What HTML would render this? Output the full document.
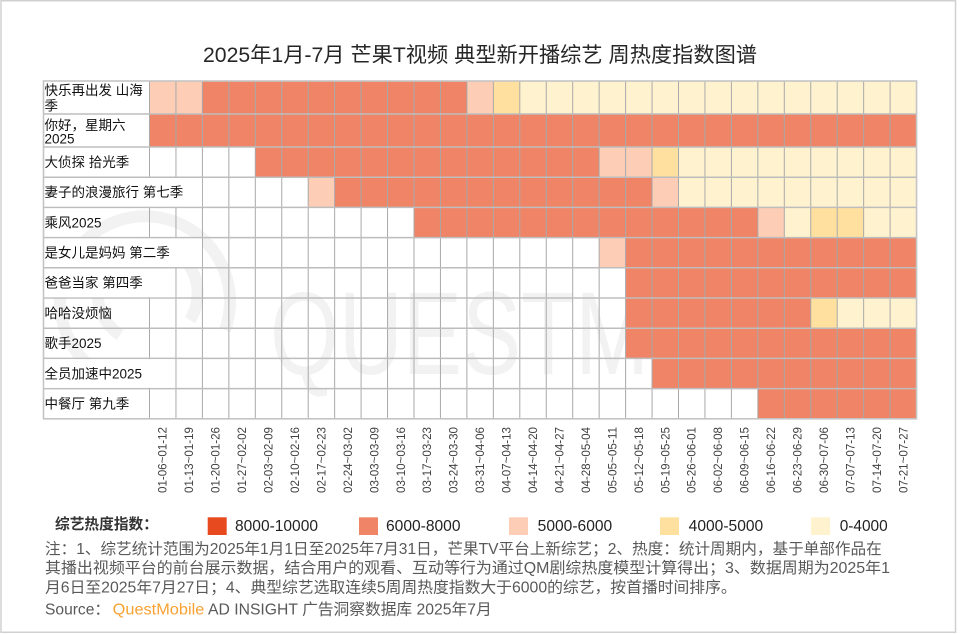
<!DOCTYPE html>
<html>
<head>
<meta charset="utf-8">
<style>
html,body{margin:0;padding:0;background:#fff;}
svg{display:block;}
text{font-family:"Liberation Sans","Noto Sans CJK SC",sans-serif;}
</style>
</head>
<body>
<svg width="960" height="634" viewBox="0 0 960 634" xmlns="http://www.w3.org/2000/svg">
<defs>
<clipPath id="wm"><rect x="43.5" y="81" width="873" height="338"/></clipPath>
</defs>
<rect x="0" y="0" width="960" height="634" fill="#fff"/>
<!-- frame -->
<rect x="1" y="0.75" width="954.5" height="631.5" fill="none" stroke="#d0d0d0" stroke-width="1.5"/>

<!-- title -->
<text x="480" y="62" font-size="21" fill="#262626" text-anchor="middle" textLength="554" lengthAdjust="spacingAndGlyphs">2025年1月-7月 芒果T视频 典型新开播综艺 周热度指数图谱</text>

<!-- watermark -->
<g clip-path="url(#wm)">
<g fill="none" stroke="#f2f2f2" stroke-width="12">
<path d="M95 370 A85 85 0 1 1 225 330"/>
<path d="M120 335 A50 50 0 1 1 190 320"/>
</g>
<text x="270" y="374" font-size="118" fill="#f2f2f2" textLength="640" lengthAdjust="spacingAndGlyphs">QUESTMOBILE</text>
</g>

<!-- cells -->
<g>
<!-- R1 -->
<rect x="149.5" y="81" width="52.9" height="33" fill="#FDCDB5"/>
<rect x="202.4" y="81" width="264.5" height="33" fill="#EF8467"/>
<rect x="466.9" y="81" width="26.45" height="33" fill="#FDCDB5"/>
<rect x="493.35" y="81" width="26.45" height="33" fill="#FFE09F"/>
<rect x="519.8" y="81" width="396.75" height="33" fill="#FFF3CF"/>
<!-- R2 -->
<rect x="149.5" y="114" width="767.05" height="33" fill="#EF8467"/>
<!-- R3 -->
<rect x="255.3" y="147" width="343.85" height="30.2" fill="#EF8467"/>
<rect x="599.15" y="147" width="52.9" height="30.2" fill="#FDCDB5"/>
<rect x="652.05" y="147" width="26.45" height="30.2" fill="#FFE09F"/>
<rect x="678.5" y="147" width="238.05" height="30.2" fill="#FFF3CF"/>
<!-- R4 -->
<rect x="308.2" y="177.2" width="26.45" height="30.2" fill="#FDCDB5"/>
<rect x="334.65" y="177.2" width="317.4" height="30.2" fill="#EF8467"/>
<rect x="652.05" y="177.2" width="26.45" height="30.2" fill="#FDCDB5"/>
<rect x="678.5" y="177.2" width="238.05" height="30.2" fill="#FFF3CF"/>
<!-- R5 -->
<rect x="414" y="207.4" width="343.85" height="30.2" fill="#EF8467"/>
<rect x="757.85" y="207.4" width="26.45" height="30.2" fill="#FDCDB5"/>
<rect x="784.3" y="207.4" width="26.45" height="30.2" fill="#FFF3CF"/>
<rect x="810.75" y="207.4" width="52.9" height="30.2" fill="#FFE09F"/>
<rect x="863.65" y="207.4" width="52.9" height="30.2" fill="#FFF3CF"/>
<!-- R6 -->
<rect x="599.15" y="237.6" width="26.45" height="30.2" fill="#FDCDB5"/>
<rect x="625.6" y="237.6" width="290.95" height="30.2" fill="#EF8467"/>
<!-- R7 -->
<rect x="625.6" y="267.8" width="290.95" height="30.2" fill="#EF8467"/>
<!-- R8 -->
<rect x="625.6" y="298" width="185.15" height="30.2" fill="#EF8467"/>
<rect x="810.75" y="298" width="26.45" height="30.2" fill="#FFE09F"/>
<rect x="837.2" y="298" width="79.35" height="30.2" fill="#FFF3CF"/>
<!-- R9 -->
<rect x="625.6" y="328.2" width="290.95" height="30.2" fill="#EF8467"/>
<!-- R10 -->
<rect x="652.05" y="358.4" width="264.5" height="30.2" fill="#EF8467"/>
<!-- R11 -->
<rect x="757.85" y="388.6" width="158.7" height="30.2" fill="#EF8467"/>
</g>

<!-- grid: vertical -->
<path fill="none" stroke="#a9a9a9" stroke-width="1" d="M149.5 81V418.8M175.95 81V418.8M202.4 81V418.8M228.85 81V418.8M255.3 81V418.8M281.75 81V418.8M308.2 81V418.8M334.65 81V418.8M361.1 81V418.8M387.55 81V418.8M414 81V418.8M440.45 81V418.8M466.9 81V418.8M493.35 81V418.8M519.8 81V418.8M546.25 81V418.8M572.7 81V418.8M599.15 81V418.8M625.6 81V418.8M652.05 81V418.8M678.5 81V418.8M704.95 81V418.8M731.4 81V418.8M757.85 81V418.8M784.3 81V418.8M810.75 81V418.8M837.2 81V418.8M863.65 81V418.8M890.1 81V418.8"/>
<!-- grid: horizontal -->
<path fill="none" stroke="#bdbdbd" stroke-width="1.5" d="M43.5 114H916.55M43.5 147H916.55M43.5 177.2H916.55M43.5 207.4H916.55M43.5 237.6H916.55M43.5 267.8H916.55M43.5 298H916.55M43.5 328.2H916.55M43.5 358.4H916.55M43.5 388.6H916.55"/>
<!-- outer border -->
<rect x="43.5" y="81" width="873.05" height="337.8" fill="none" stroke="#c4c4c4" stroke-width="1.6"/>

<!-- overflow label backgrounds -->
<rect x="44.4" y="178" width="157.5" height="28.6" fill="#fff"/>
<rect x="44.4" y="238.4" width="157.5" height="28.6" fill="#fff"/>
<rect x="44.4" y="268.6" width="131" height="28.6" fill="#fff"/>
<rect x="44.4" y="359.2" width="131" height="28.6" fill="#fff"/>

<!-- row labels -->
<g font-size="13.5" fill="#111">
<text x="44.5" y="95.1">快乐再出发 山海</text>
<text x="44.5" y="110.3">季</text>
<text x="44.5" y="129.8">你好，星期六</text>
<text x="44.5" y="143.6">2025</text>
<text x="44.5" y="166.9">大侦探 拾光季</text>
<text x="44.5" y="197.1">妻子的浪漫旅行 第七季</text>
<text x="44.5" y="227.3">乘风2025</text>
<text x="44.5" y="257.5">是女儿是妈妈 第二季</text>
<text x="44.5" y="287.7">爸爸当家 第四季</text>
<text x="44.5" y="317.9">哈哈没烦恼</text>
<text x="44.5" y="348.1">歌手2025</text>
<text x="44.5" y="378.3">全员加速中2025</text>
<text x="44.5" y="408.5">中餐厅 第九季</text>
</g>

<!-- tick labels -->
<g font-size="11.5" fill="#404040" text-anchor="end">
<text transform="translate(166.7,427) rotate(-90)" textLength="66" lengthAdjust="spacingAndGlyphs">01-06~01-12</text>
<text transform="translate(193.2,427) rotate(-90)" textLength="66" lengthAdjust="spacingAndGlyphs">01-13~01-19</text>
<text transform="translate(219.6,427) rotate(-90)" textLength="66" lengthAdjust="spacingAndGlyphs">01-20~01-26</text>
<text transform="translate(246.1,427) rotate(-90)" textLength="66" lengthAdjust="spacingAndGlyphs">01-27~02-02</text>
<text transform="translate(272.5,427) rotate(-90)" textLength="66" lengthAdjust="spacingAndGlyphs">02-03~02-09</text>
<text transform="translate(299.0,427) rotate(-90)" textLength="66" lengthAdjust="spacingAndGlyphs">02-10~02-16</text>
<text transform="translate(325.4,427) rotate(-90)" textLength="66" lengthAdjust="spacingAndGlyphs">02-17~02-23</text>
<text transform="translate(351.9,427) rotate(-90)" textLength="66" lengthAdjust="spacingAndGlyphs">02-24~03-02</text>
<text transform="translate(378.3,427) rotate(-90)" textLength="66" lengthAdjust="spacingAndGlyphs">03-03~03-09</text>
<text transform="translate(404.8,427) rotate(-90)" textLength="66" lengthAdjust="spacingAndGlyphs">03-10~03-16</text>
<text transform="translate(431.2,427) rotate(-90)" textLength="66" lengthAdjust="spacingAndGlyphs">03-17~03-23</text>
<text transform="translate(457.7,427) rotate(-90)" textLength="66" lengthAdjust="spacingAndGlyphs">03-24~03-30</text>
<text transform="translate(484.1,427) rotate(-90)" textLength="66" lengthAdjust="spacingAndGlyphs">03-31~04-06</text>
<text transform="translate(510.6,427) rotate(-90)" textLength="66" lengthAdjust="spacingAndGlyphs">04-07~04-13</text>
<text transform="translate(537.0,427) rotate(-90)" textLength="66" lengthAdjust="spacingAndGlyphs">04-14~04-20</text>
<text transform="translate(563.5,427) rotate(-90)" textLength="66" lengthAdjust="spacingAndGlyphs">04-21~04-27</text>
<text transform="translate(589.9,427) rotate(-90)" textLength="66" lengthAdjust="spacingAndGlyphs">04-28~05-04</text>
<text transform="translate(616.4,427) rotate(-90)" textLength="66" lengthAdjust="spacingAndGlyphs">05-05~05-11</text>
<text transform="translate(642.8,427) rotate(-90)" textLength="66" lengthAdjust="spacingAndGlyphs">05-12~05-18</text>
<text transform="translate(669.3,427) rotate(-90)" textLength="66" lengthAdjust="spacingAndGlyphs">05-19~05-25</text>
<text transform="translate(695.7,427) rotate(-90)" textLength="66" lengthAdjust="spacingAndGlyphs">05-26~06-01</text>
<text transform="translate(722.2,427) rotate(-90)" textLength="66" lengthAdjust="spacingAndGlyphs">06-02~06-08</text>
<text transform="translate(748.6,427) rotate(-90)" textLength="66" lengthAdjust="spacingAndGlyphs">06-09~06-15</text>
<text transform="translate(775.1,427) rotate(-90)" textLength="66" lengthAdjust="spacingAndGlyphs">06-16~06-22</text>
<text transform="translate(801.5,427) rotate(-90)" textLength="66" lengthAdjust="spacingAndGlyphs">06-23~06-29</text>
<text transform="translate(828.0,427) rotate(-90)" textLength="66" lengthAdjust="spacingAndGlyphs">06-30~07-06</text>
<text transform="translate(854.4,427) rotate(-90)" textLength="66" lengthAdjust="spacingAndGlyphs">07-07~07-13</text>
<text transform="translate(880.9,427) rotate(-90)" textLength="66" lengthAdjust="spacingAndGlyphs">07-14~07-20</text>
<text transform="translate(907.3,427) rotate(-90)" textLength="66" lengthAdjust="spacingAndGlyphs">07-21~07-27</text>
</g>

<!-- legend -->
<text x="55" y="529" font-size="15" font-weight="bold" fill="#333" textLength="103" lengthAdjust="spacingAndGlyphs">综艺热度指数：</text>
<rect x="207.7" y="517.3" width="19" height="17.7" fill="#E84A1F"/>
<rect x="359" y="517.3" width="19" height="17.7" fill="#EF8467"/>
<rect x="509" y="517.3" width="19" height="17.7" fill="#FDCDB5"/>
<rect x="660" y="517.3" width="19" height="17.7" fill="#FFE09F"/>
<rect x="811" y="517.3" width="19" height="17.7" fill="#FFF3CF"/>
<g font-size="15.5" fill="#222">
<text x="235" y="531" textLength="83" lengthAdjust="spacingAndGlyphs">8000-10000</text>
<text x="386" y="531" textLength="74.5" lengthAdjust="spacingAndGlyphs">6000-8000</text>
<text x="537.7" y="531" textLength="74.5" lengthAdjust="spacingAndGlyphs">5000-6000</text>
<text x="688.7" y="531" textLength="74.5" lengthAdjust="spacingAndGlyphs">4000-5000</text>
<text x="839.7" y="531" textLength="48" lengthAdjust="spacingAndGlyphs">0-4000</text>
</g>

<!-- notes -->
<g font-size="15.5" fill="#595959">
<text x="45" y="554" textLength="836.7" lengthAdjust="spacingAndGlyphs">注：1、综艺统计范围为2025年1月1日至2025年7月31日，芒果TV平台上新综艺；2、热度：统计周期内，基于单部作品在</text>
<text x="45" y="573" textLength="845" lengthAdjust="spacingAndGlyphs">其播出视频平台的前台展示数据，结合用户的观看、互动等行为通过QM剧综热度模型计算得出；3、数据周期为2025年1</text>
<text x="45" y="592.5" textLength="691.7" lengthAdjust="spacingAndGlyphs">月6日至2025年7月27日；4、典型综艺选取连续5周周热度指数大于6000的综艺，按首播时间排序。</text>
<text x="45" y="614.5" textLength="65" lengthAdjust="spacingAndGlyphs">Source：</text>
<text x="112.7" y="614.5" fill="#F7A233" textLength="91.6" lengthAdjust="spacingAndGlyphs">QuestMobile</text>
<text x="208" y="614.5" textLength="283.7" lengthAdjust="spacingAndGlyphs">AD INSIGHT 广告洞察数据库 2025年7月</text>
</g>
</svg>
</body>
</html>
